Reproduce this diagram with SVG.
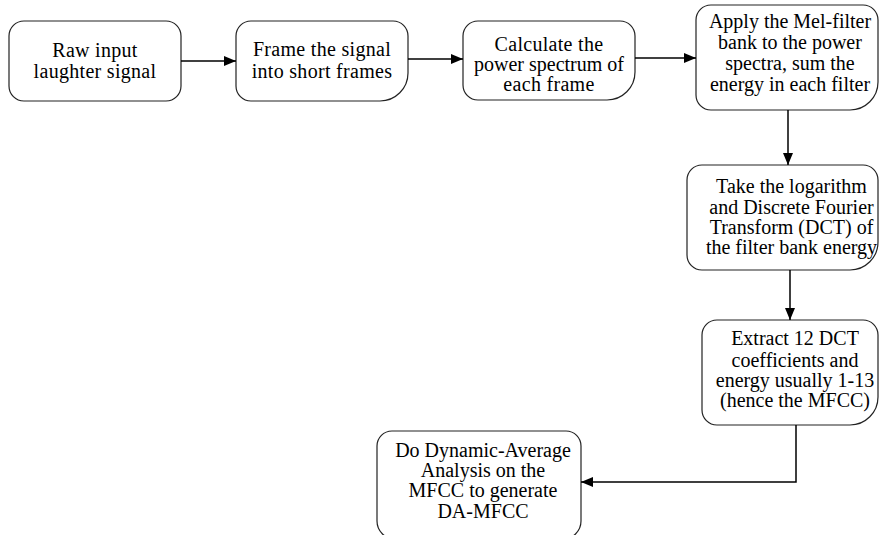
<svg xmlns="http://www.w3.org/2000/svg" width="880" height="535" viewBox="0 0 880 535">
<defs>
<marker id="ah" markerWidth="12" markerHeight="10" refX="12" refY="5" orient="auto" markerUnits="userSpaceOnUse">
<path d="M0,0 L12,5 L0,10 Z" fill="#000"/>
</marker>
<style>
.box{fill:#fff;stroke:#222;stroke-width:1.2}
.t{font-family:"Liberation Serif","Times New Roman",serif;font-size:20px;fill:#000;text-anchor:middle}
.w{letter-spacing:0.3px}
.c{fill:none;stroke:#000;stroke-width:1.5;marker-end:url(#ah)}
</style>
</defs>
<rect width="880" height="535" fill="#fff"/>
<g id="n1">
<path class="box" d="M24,21 H166 A15,15 0 0 1 181,36 V86 A15,15 0 0 1 166,101 H24 A15,15 0 0 1 9,86 V36 A15,15 0 0 1 24,21 Z"/>
<text class="t w" x="95" y="56.5">Raw input</text>
<text class="t w" x="95" y="78">laughter signal</text>
</g>
<g id="n2">
<path class="box" d="M251,21 H393 A15,15 0 0 1 408,36 V73 A28,28 0 0 1 380,101 H251 A15,15 0 0 1 236,86 V36 A15,15 0 0 1 251,21 Z"/>
<text class="t w" x="322" y="56">Frame the signal</text>
<text class="t w" x="322" y="77.5">into short frames</text>
</g>
<g id="n3">
<path class="box" d="M478,21 H620 A15,15 0 0 1 635,36 V72 A28,28 0 0 1 607,100 H478 A15,15 0 0 1 463,85 V36 A15,15 0 0 1 478,21 Z"/>
<text class="t w" x="549" y="50.5">Calculate the</text>
<text class="t" x="549" y="70.7">power spectrum of</text>
<text class="t w" x="549" y="90.9">each frame</text>
</g>
<g id="n4">
<path class="box" d="M711,5 H863 A15,15 0 0 1 878,20 V82 A28,28 0 0 1 850,110 H711 A15,15 0 0 1 696,95 V20 A15,15 0 0 1 711,5 Z"/>
<text class="t" x="790" y="28.3">Apply the Mel-filter</text>
<text class="t" x="790" y="49.3">bank to the power</text>
<text class="t" x="790" y="70">spectra, sum the</text>
<text class="t" x="790" y="90.7">energy in each filter</text>
</g>
<g id="n5">
<path class="box" d="M702,165 H863 A15,15 0 0 1 878,180 V242 A28,28 0 0 1 850,270 H702 A15,15 0 0 1 687,255 V180 A15,15 0 0 1 702,165 Z"/>
<text class="t" x="791.5" y="193.3">Take the logarithm</text>
<text class="t" x="791.5" y="213.5">and Discrete Fourier</text>
<text class="t" x="791.5" y="234">Transform (DCT) of</text>
<text class="t" x="791.5" y="254.3">the filter bank energy</text>
</g>
<g id="n6">
<path class="box" d="M717,320 H863 A15,15 0 0 1 878,335 V397 A28,28 0 0 1 850,425 H717 A15,15 0 0 1 702,410 V335 A15,15 0 0 1 717,320 Z"/>
<text class="t" x="795" y="345">Extract 12 DCT</text>
<text class="t" x="795" y="366.5">coefficients and</text>
<text class="t" x="795" y="386.7">energy usually 1-13</text>
<text class="t" x="795" y="406.7">(hence the MFCC)</text>
</g>
<g id="n7">
<path class="box" d="M392,431 H566 A15,15 0 0 1 581,446 V521 A18,18 0 0 1 563,539 H395 A18,18 0 0 1 377,521 V446 A15,15 0 0 1 392,431 Z"/>
<text class="t" x="483" y="456.7">Do Dynamic-Average</text>
<text class="t" x="483" y="476.7">Analysis on the</text>
<text class="t" x="483" y="497.3">MFCC to generate</text>
<text class="t" x="483" y="517.7">DA-MFCC</text>
</g>
<g id="connectors">
<path class="c" d="M181,61 H236"/>
<path class="c" d="M408,59 H463"/>
<path class="c" d="M635,58 H696"/>
<path class="c" d="M788,110 V165"/>
<path class="c" d="M790,270 V320"/>
<path class="c" d="M796,425 V482 H581"/>
</g>
</svg>
